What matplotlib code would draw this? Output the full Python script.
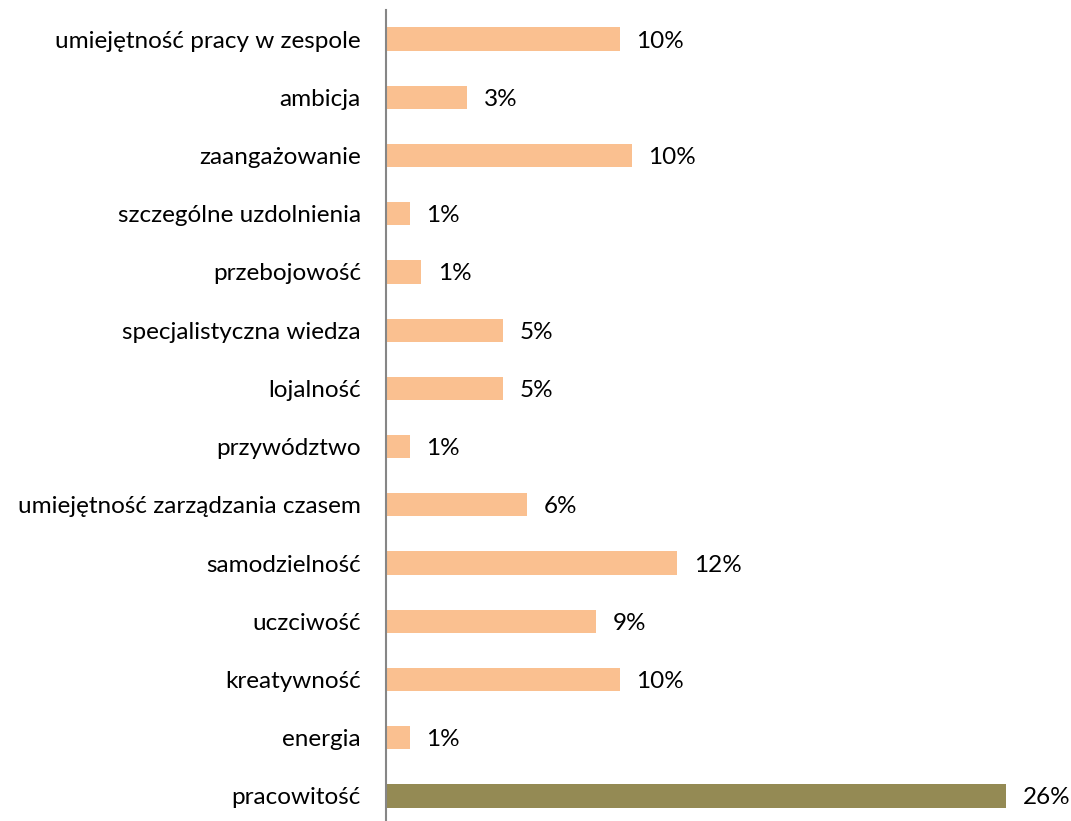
import matplotlib
matplotlib.use("Agg")
import matplotlib.pyplot as plt
import numpy as np

categories = [
    "umiejętność pracy w zespole",
    "ambicja",
    "zaangażowanie",
    "szczególne uzdolnienia",
    "przebojowość",
    "specjalistyczna wiedza",
    "lojalność",
    "przywództwo",
    "umiejętność zarządzania czasem",
    "samodzielność",
    "uczciwość",
    "kreatywność",
    "energia",
    "pracowitość",
]
values = [9.8, 3.4, 10.3, 1.0, 1.47, 4.9, 4.9, 1.0, 5.9, 12.2, 8.8, 9.8, 1.0, 26.0]
highlight = "pracowitość"

plt.rcParams['font.family'] = ['Lato', 'DejaVu Sans']

fig = plt.figure(figsize=(10.71, 8.21), dpi=100)
ax = fig.add_axes([386 / 1071, -4 / 821, 685 / 1071, 815 / 821])

y = np.arange(len(categories))
colors = ["#948a54" if c == highlight else "#fac090" for c in categories]
ax.barh(y, values, height=0.4, color=colors)

for yi, v in zip(y, values):
    ax.text(v + 0.7, yi, f"{round(v):.0f}%", va="center_baseline", ha="left", fontsize=17.5)

ax.set_yticks(y)
ax.set_yticklabels(categories, fontsize=17.5, va="center_baseline")
ax.tick_params(axis="y", length=0, pad=18)
ax.set_xticks([])
ax.set_xlim(0, 685 / 23.85)
ax.set_ylim(len(categories) - 0.5, -0.5)

for s in ["top", "right", "bottom"]:
    ax.spines[s].set_visible(False)
ax.spines["left"].set_color("#868686")
ax.spines["left"].set_linewidth(1.5)

fig.savefig("out.png", dpi=100)
